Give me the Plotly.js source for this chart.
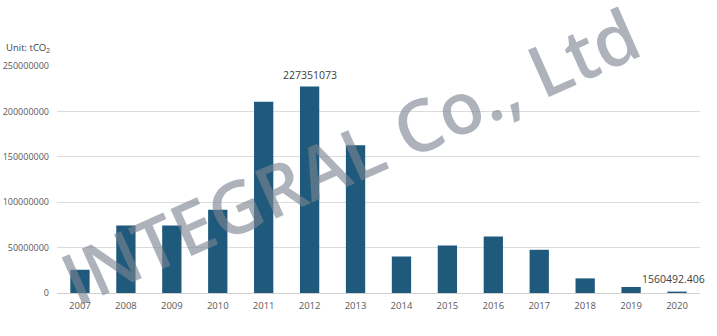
<!DOCTYPE html>
<html>
<head>
<meta charset="utf-8">
<script src="https://cdn.plot.ly/plotly-3.0.1.min.js"></script>
<style>html,body{margin:0;padding:0;background:#fff;}#chart{width:717px;height:336px;}</style>
</head>
<body>
<div id="chart"></div>
<script>
const years = ['2007','2008','2009','2010','2011','2012','2013','2014','2015','2016','2017','2018','2019','2020'];
const emissions = [25600000, 74400000, 74400000, 91600000, 210700000, 227351073, 162800000, 40200000, 52400000, 62300000, 47600000, 16100000, 6600000, 1560492.406];
const labelYears = ['2012', '2020'];
const labelTexts = ['227351073', '1560492.406'];
const yTicks = [0, 50000000, 100000000, 150000000, 200000000, 250000000];
const yTickText = ['0', '50000000', '100000000', '150000000', '200000000', '250000000'];

const FONT = 'Open Sans, Noto Sans, sans-serif';

const annotations = labelYears.map((yr, i) => ({
  x: years.indexOf(yr), y: emissions[years.indexOf(yr)], xref: 'x', yref: 'y',
  text: labelTexts[i], showarrow: false, yanchor: 'bottom',
  yshift: i === 0 ? 3 : 4, xshift: i === 0 ? 0 : -4,
  font: {family: FONT, size: 10.5, color: '#404040'}
}));
annotations.push({
  xref: 'paper', yref: 'paper', x: -0.082, y: 1.08, xanchor: 'left', yanchor: 'middle',
  text: 'Unit: tCO<sub>2</sub>', showarrow: false,
  font: {family: FONT, size: 9.5, color: '#404040'}
});
annotations.push({
  xref: 'paper', yref: 'paper', x: 0.455, y: 0.61, xanchor: 'center', yanchor: 'middle',
  text: 'INTEGRAL Co., Ltd', showarrow: false, textangle: -24,
  font: {family: FONT, size: 72, weight: 600, color: 'rgba(125,132,145,0.62)'}
});

Plotly.newPlot('chart', [{
  type: 'bar', x: years, y: emissions,
  marker: {color: '#1f5a7c'},
  hoverinfo: 'skip'
}], {
  width: 717, height: 336,
  margin: {l: 57, r: 17, t: 66, b: 43, pad: 0},
  paper_bgcolor: '#ffffff', plot_bgcolor: '#ffffff',
  bargap: 0.58,
  showlegend: false,
  xaxis: {
    type: 'category', range: [-0.5, years.length - 0.5], autorange: false,
    showgrid: false, zeroline: false,
    showline: true, linecolor: '#d0d0d0', linewidth: 1,
    ticks: '', ticklabelstandoff: 4,
    tickfont: {family: FONT, size: 9.5, color: '#595959'}
  },
  yaxis: {
    range: [0, 250000000], autorange: false, tickvals: yTicks, ticktext: yTickText,
    showgrid: true, gridcolor: '#dcdcdc', gridwidth: 1, zeroline: false,
    showline: false, ticks: '', ticklabelstandoff: 7,
    tickfont: {family: FONT, size: 9, color: '#595959'}
  },
  annotations: annotations
}, {staticPlot: true, displayModeBar: false});
</script>
</body>
</html>
